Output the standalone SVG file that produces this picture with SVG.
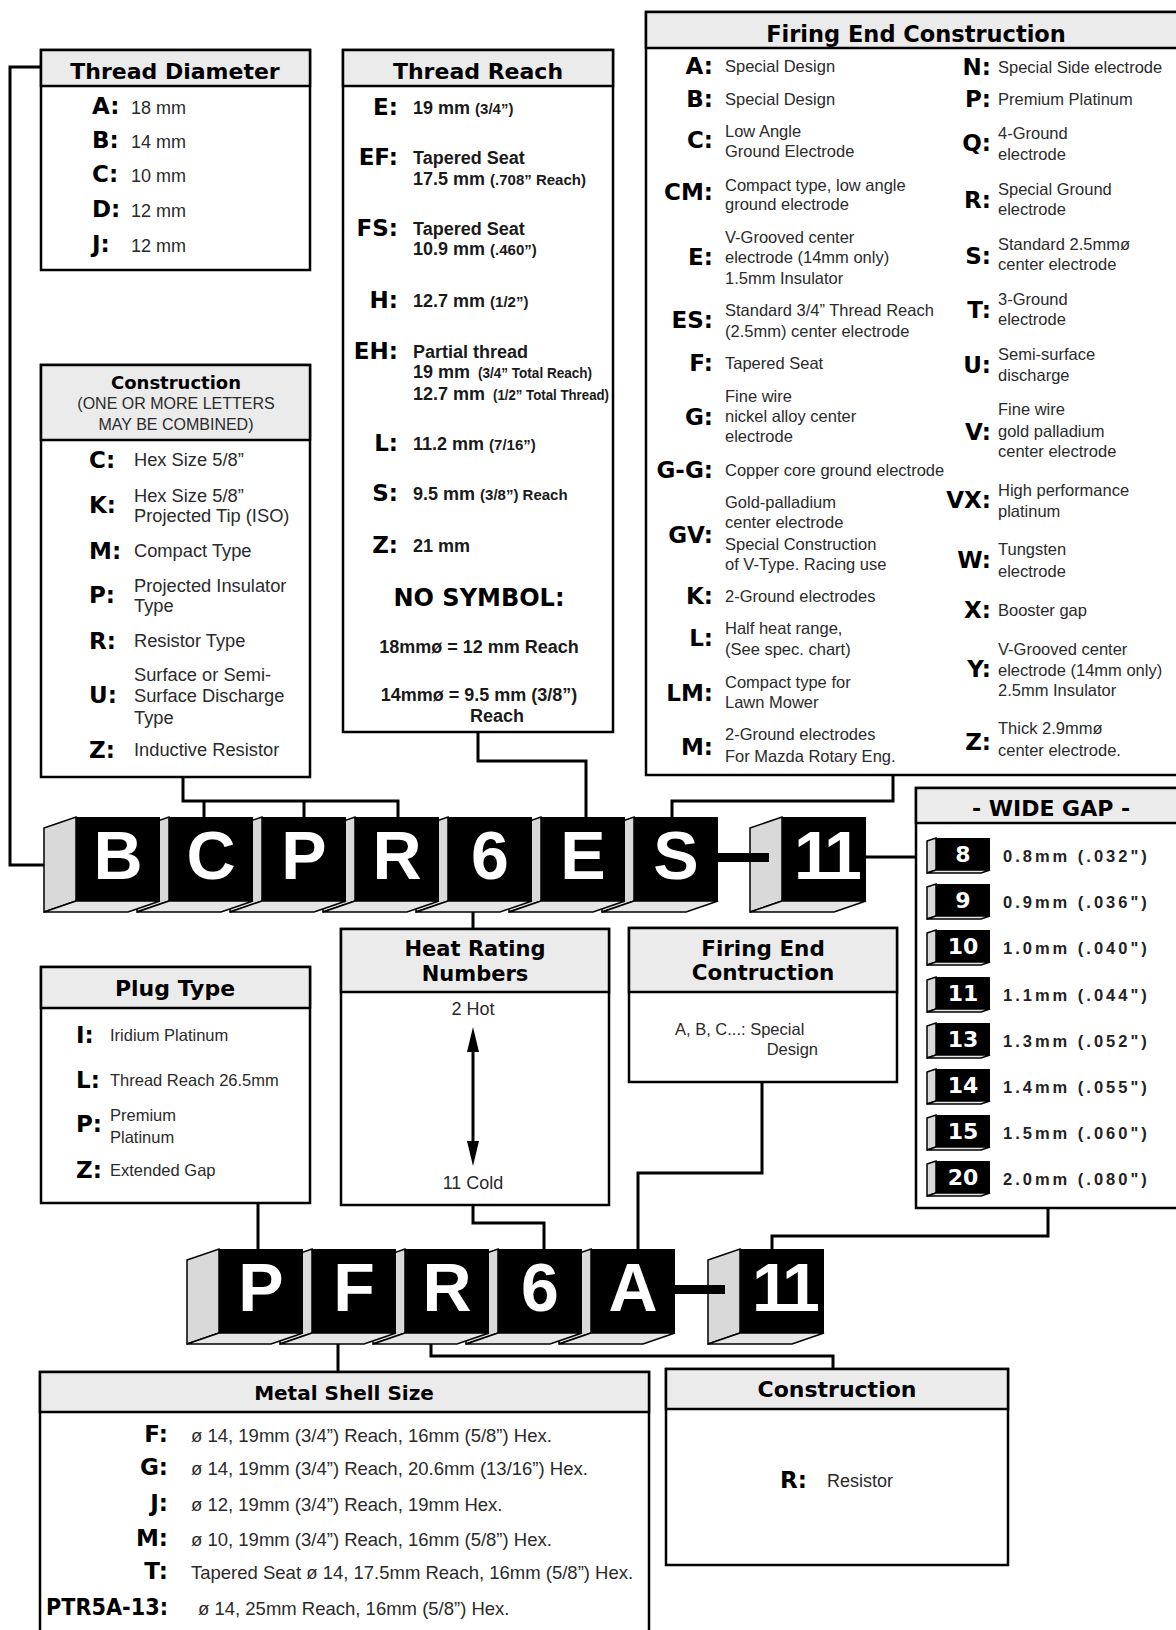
<svg xmlns="http://www.w3.org/2000/svg" xmlns:xlink="http://www.w3.org/1999/xlink" width="1176" height="1630" viewBox="0 0 1176 1630">
<style>
.box{fill:#fff;stroke:#000;stroke-width:2.5}
.hdr{fill:#ebebeb;stroke:#000;stroke-width:2.5}
.con{fill:none;stroke:#000;stroke-width:3}
.h{font-family:'DejaVu Sans',sans-serif;font-weight:700;fill:#000;text-anchor:middle}
.k{font-family:'DejaVu Sans',sans-serif;font-weight:700;font-size:23px;fill:#000}
.ke{font-family:'DejaVu Sans',sans-serif;font-weight:700;font-size:23px;fill:#000;text-anchor:end}
.t{font-family:'Liberation Sans',Arial,sans-serif;fill:#2a2a2a}
.f{font-size:16.5px}
.tb{font-family:'Liberation Sans',Arial,sans-serif;font-weight:700;font-size:18px;fill:#1a1a1a}
.sm{font-size:15px}
.bl{font-family:'Liberation Sans',Arial,sans-serif;font-weight:700;font-size:68px;fill:#fff;text-anchor:middle}
.sn{font-family:'DejaVu Sans',sans-serif;font-weight:700;font-size:22px;fill:#fff;text-anchor:middle}
.wg{font-family:'Liberation Sans',Arial,sans-serif;font-weight:700;font-size:16.5px;letter-spacing:3px;fill:#222}
.sd{fill:#d9d9d9;stroke:#000;stroke-width:1.5}
.bt{fill:#e6e6e6;stroke:#000;stroke-width:1.5}
</style>
<defs>
<g id="blk"><polygon class="sd" points="-32,11 0,0 0,84 -32,95"/><polygon class="bt" points="0,84 84,84 52,95 -32,95"/><rect width="84" height="84" fill="#000"/></g>
<g id="sblk"><polygon class="sd" points="-9,3 0,0 0,32 -9,35"/><polygon class="bt" points="0,32 54,32 45,35 -9,35"/><rect width="54" height="32" fill="#000"/></g>
</defs>
<rect width="1176" height="1630" fill="#fff"/>

<g id="connectors">
<path class="con" d="M41,67 H10 V865 H60"/>
<path class="con" d="M478,732 V761 H586 V817"/>
<path class="con" d="M893,775 V801 H672 V817"/>
<path class="con" d="M183,777 V801 H398 V817 M204,801 V817 M304,801 V817"/>
<path class="con" d="M866,857 H916"/>
<path class="con" d="M473,906 V929"/>
<path class="con" d="M1048,1208 V1236 H772 V1249"/>
<path class="con" d="M258,1203 V1249"/>
<path class="con" d="M473,1205 V1223 H544 V1249"/>
<path class="con" d="M762,1082 V1173 H638 V1249"/>
<path class="con" d="M338,1338 V1372"/>
<path class="con" d="M431,1337 V1356 H833 V1369"/>
</g>

<g id="thread-diameter">
<rect class="box" x="41" y="50" width="269" height="220"/>
<rect class="hdr" x="41" y="50" width="269" height="36"/>
<text class="h" x="175" y="79" font-size="22">Thread Diameter</text>
<text class="k" x="92" y="114">A:</text><text class="t" x="131" y="114" font-size="18">18 mm</text>
<text class="k" x="92" y="148">B:</text><text class="t" x="131" y="148" font-size="18">14 mm</text>
<text class="k" x="92" y="182">C:</text><text class="t" x="131" y="182" font-size="18">10 mm</text>
<text class="k" x="92" y="217">D:</text><text class="t" x="131" y="217" font-size="18">12 mm</text>
<text class="k" x="92" y="252">J:</text><text class="t" x="131" y="252" font-size="18">12 mm</text>
</g>

<g id="thread-reach">
<rect class="box" x="343" y="50" width="270" height="682"/>
<rect class="hdr" x="343" y="50" width="270" height="36"/>
<text class="h" x="478" y="79" font-size="22">Thread Reach</text>
<text class="ke" x="398" y="115">E:</text><text class="tb" x="413" y="114">19 mm <tspan class="sm">(3/4”)</tspan></text>
<text class="ke" x="398" y="165">EF:</text><text class="tb" x="413" y="164">Tapered Seat</text><text class="tb" x="413" y="185">17.5 mm <tspan class="sm">(.708” Reach)</tspan></text>
<text class="ke" x="398" y="236">FS:</text><text class="tb" x="413" y="235">Tapered Seat</text><text class="tb" x="413" y="255">10.9 mm <tspan class="sm">(.460”)</tspan></text>
<text class="ke" x="398" y="308">H:</text><text class="tb" x="413" y="307">12.7 mm <tspan class="sm">(1/2”)</tspan></text>
<text class="ke" x="398" y="359">EH:</text><text class="tb" x="413" y="358">Partial thread</text>
<text class="tb" x="413" y="378">19 mm</text><text class="tb sm" x="478" y="378" textLength="114" lengthAdjust="spacingAndGlyphs">(3/4” Total Reach)</text>
<text class="tb" x="413" y="400">12.7 mm</text><text class="tb sm" x="493" y="400" textLength="116" lengthAdjust="spacingAndGlyphs">(1/2” Total Thread)</text>
<text class="ke" x="398" y="451">L:</text><text class="tb" x="413" y="450">11.2 mm <tspan class="sm">(7/16”)</tspan></text>
<text class="ke" x="398" y="501">S:</text><text class="tb" x="413" y="500">9.5 mm <tspan class="sm">(3/8”) Reach</tspan></text>
<text class="ke" x="398" y="553">Z:</text><text class="tb" x="413" y="552">21 mm</text>
<text class="h" x="479" y="606" font-size="24">NO SYMBOL:</text>
<text class="tb" x="479" y="653" text-anchor="middle">18mmø = 12 mm Reach</text>
<text class="tb" x="479" y="701" text-anchor="middle">14mmø = 9.5 mm (3/8”)</text>
<text class="tb" x="497" y="722" text-anchor="middle">Reach</text>
</g>

<g id="firing-end-construction">
<rect class="box" x="646" y="12" width="540" height="763"/>
<rect class="hdr" x="646" y="12" width="540" height="36"/>
<text class="h" x="916" y="42" font-size="22.5">Firing End Construction</text>
<g class="t f">
<text class="ke" x="713" y="74">A:</text><text x="725" y="72">Special Design</text>
<text class="ke" x="713" y="107">B:</text><text x="725" y="105">Special Design</text>
<text class="ke" x="713" y="148">C:</text><text x="725" y="137">Low Angle</text><text x="725" y="157">Ground Electrode</text>
<text class="ke" x="713" y="200">CM:</text><text x="725" y="191">Compact type, low angle</text><text x="725" y="210">ground electrode</text>
<text class="ke" x="713" y="265">E:</text><text x="725" y="243">V-Grooved center</text><text x="725" y="263">electrode (14mm only)</text><text x="725" y="284">1.5mm Insulator</text>
<text class="ke" x="713" y="328">ES:</text><text x="725" y="316">Standard 3/4” Thread Reach</text><text x="725" y="337">(2.5mm) center electrode</text>
<text class="ke" x="713" y="371">F:</text><text x="725" y="369">Tapered Seat</text>
<text class="ke" x="713" y="425">G:</text><text x="725" y="402">Fine wire</text><text x="725" y="422">nickel alloy center</text><text x="725" y="442">electrode</text>
<text class="ke" x="713" y="478">G-G:</text><text x="725" y="476">Copper core ground electrode</text>
<text class="ke" x="713" y="543">GV:</text><text x="725" y="508">Gold-palladium</text><text x="725" y="528">center electrode</text><text x="725" y="550">Special Construction</text><text x="725" y="570">of V-Type. Racing use</text>
<text class="ke" x="713" y="604">K:</text><text x="725" y="602">2-Ground electrodes</text>
<text class="ke" x="713" y="646">L:</text><text x="725" y="634">Half heat range,</text><text x="725" y="655">(See spec. chart)</text>
<text class="ke" x="713" y="701">LM:</text><text x="725" y="688">Compact type for</text><text x="725" y="708">Lawn Mower</text>
<text class="ke" x="713" y="755">M:</text><text x="725" y="740">2-Ground electrodes</text><text x="725" y="762">For Mazda Rotary Eng.</text>
<text class="ke" x="991" y="75">N:</text><text x="998" y="73">Special Side electrode</text>
<text class="ke" x="991" y="107">P:</text><text x="998" y="105">Premium Platinum</text>
<text class="ke" x="991" y="151">Q:</text><text x="998" y="139">4-Ground</text><text x="998" y="160">electrode</text>
<text class="ke" x="991" y="208">R:</text><text x="998" y="195">Special Ground</text><text x="998" y="215">electrode</text>
<text class="ke" x="991" y="264">S:</text><text x="998" y="250">Standard 2.5mmø</text><text x="998" y="270">center electrode</text>
<text class="ke" x="991" y="318">T:</text><text x="998" y="305">3-Ground</text><text x="998" y="325">electrode</text>
<text class="ke" x="991" y="373">U:</text><text x="998" y="360">Semi-surface</text><text x="998" y="381">discharge</text>
<text class="ke" x="991" y="440">V:</text><text x="998" y="415">Fine wire</text><text x="998" y="437">gold palladium</text><text x="998" y="457">center electrode</text>
<text class="ke" x="991" y="508">VX:</text><text x="998" y="496">High performance</text><text x="998" y="517">platinum</text>
<text class="ke" x="991" y="568">W:</text><text x="998" y="555">Tungsten</text><text x="998" y="577">electrode</text>
<text class="ke" x="991" y="618">X:</text><text x="998" y="616">Booster gap</text>
<text class="ke" x="991" y="677">Y:</text><text x="998" y="655">V-Grooved center</text><text x="998" y="676">electrode (14mm only)</text><text x="998" y="696">2.5mm Insulator</text>
<text class="ke" x="991" y="750">Z:</text><text x="998" y="734">Thick 2.9mmø</text><text x="998" y="756">center electrode.</text>
</g>
</g>

<g id="construction-top">
<rect class="box" x="41" y="365" width="269" height="412"/>
<rect class="hdr" x="41" y="365" width="269" height="75"/>
<text class="h" x="176" y="389" font-size="18">Construction</text>
<text class="t" x="176" y="409" font-size="16" text-anchor="middle">(ONE OR MORE LETTERS</text>
<text class="t" x="176" y="430" font-size="16" text-anchor="middle">MAY BE COMBINED)</text>
<g class="t" font-size="18.3">
<text class="k" x="89" y="468" font-size="22">C:</text><text x="134" y="466">Hex Size 5/8”</text>
<text class="k" x="89" y="513" font-size="22">K:</text><text x="134" y="502">Hex Size 5/8”</text><text x="134" y="522">Projected Tip (ISO)</text>
<text class="k" x="89" y="559" font-size="22">M:</text><text x="134" y="557">Compact Type</text>
<text class="k" x="89" y="603" font-size="22">P:</text><text x="134" y="592">Projected Insulator</text><text x="134" y="612">Type</text>
<text class="k" x="89" y="649" font-size="22">R:</text><text x="134" y="647">Resistor Type</text>
<text class="k" x="89" y="703" font-size="22">U:</text><text x="134" y="681">Surface or Semi-</text><text x="134" y="702">Surface Discharge</text><text x="134" y="724">Type</text>
<text class="k" x="89" y="758" font-size="22">Z:</text><text x="134" y="756">Inductive Resistor</text>
</g>
</g>

<g id="code-top">
<g id="top-S"><use xlink:href="#blk" x="634" y="817"/><text class="bl" x="676" y="879">S</text></g>
<g id="top-E"><use xlink:href="#blk" x="541" y="817"/><text class="bl" x="583" y="879">E</text></g>
<g id="top-6"><use xlink:href="#blk" x="448" y="817"/><text class="bl" x="490" y="879">6</text></g>
<g id="top-R"><use xlink:href="#blk" x="355" y="817"/><text class="bl" x="397" y="879">R</text></g>
<g id="top-P"><use xlink:href="#blk" x="262" y="817"/><text class="bl" x="304" y="879">P</text></g>
<g id="top-C"><use xlink:href="#blk" x="169" y="817"/><text class="bl" x="211" y="879">C</text></g>
<g id="top-B"><use xlink:href="#blk" x="76" y="817"/><text class="bl" x="118" y="879">B</text></g>
<g id="top-11"><use xlink:href="#blk" x="782" y="817"/><text class="bl" x="826" y="879" letter-spacing="-4">11</text></g>
<rect x="717" y="853" width="52" height="9" fill="#000"/>
</g>

<g id="wide-gap">
<rect class="box" x="916" y="788" width="270" height="420"/>
<rect class="hdr" x="916" y="788" width="270" height="35"/>
<text class="h" x="1051" y="816" font-size="22">- WIDE GAP -</text>
<use xlink:href="#sblk" x="936" y="838"/><text class="sn" x="963" y="862">8</text><text class="wg" x="1003" y="862">0.8mm (.032")</text>
<use xlink:href="#sblk" x="936" y="884"/><text class="sn" x="963" y="908">9</text><text class="wg" x="1003" y="908">0.9mm (.036")</text>
<use xlink:href="#sblk" x="936" y="930"/><text class="sn" x="963" y="954">10</text><text class="wg" x="1003" y="954">1.0mm (.040")</text>
<use xlink:href="#sblk" x="936" y="977"/><text class="sn" x="963" y="1001">11</text><text class="wg" x="1003" y="1001">1.1mm (.044")</text>
<use xlink:href="#sblk" x="936" y="1023"/><text class="sn" x="963" y="1047">13</text><text class="wg" x="1003" y="1047">1.3mm (.052")</text>
<use xlink:href="#sblk" x="936" y="1069"/><text class="sn" x="963" y="1093">14</text><text class="wg" x="1003" y="1093">1.4mm (.055")</text>
<use xlink:href="#sblk" x="936" y="1115"/><text class="sn" x="963" y="1139">15</text><text class="wg" x="1003" y="1139">1.5mm (.060")</text>
<use xlink:href="#sblk" x="936" y="1161"/><text class="sn" x="963" y="1185">20</text><text class="wg" x="1003" y="1185">2.0mm (.080")</text>
</g>

<g id="heat-rating">
<rect class="box" x="341" y="929" width="268" height="276"/>
<rect class="hdr" x="341" y="929" width="268" height="63"/>
<text class="h" x="475" y="956" font-size="21">Heat Rating</text>
<text class="h" x="475" y="981" font-size="21">Numbers</text>
<text class="t" x="473" y="1015" font-size="18" text-anchor="middle">2 Hot</text>
<text class="t" x="473" y="1189" font-size="18" text-anchor="middle">11 Cold</text>
<line x1="473" y1="1050" x2="473" y2="1143" stroke="#000" stroke-width="3"/>
<path d="M473,1027 L479,1052 L467,1052 Z M473,1166 L479,1141 L467,1141 Z" fill="#000"/>
</g>

<g id="firing-end-small">
<rect class="box" x="629" y="928" width="268" height="154"/>
<rect class="hdr" x="629" y="928" width="268" height="64"/>
<text class="h" x="763" y="956" font-size="21.5">Firing End</text>
<text class="h" x="763" y="980" font-size="21.5">Contruction</text>
<text class="t f" x="675" y="1035">A, B, C...: Special</text>
<text class="t f" x="818" y="1055" text-anchor="end">Design</text>
</g>

<g id="plug-type">
<rect class="box" x="41" y="967" width="269" height="236"/>
<rect class="hdr" x="41" y="967" width="269" height="41"/>
<text class="h" x="175" y="996" font-size="22">Plug Type</text>
<g class="t f">
<text class="k" x="76" y="1043" font-size="22">I:</text><text x="110" y="1041">Iridium Platinum</text>
<text class="k" x="76" y="1088" font-size="22">L:</text><text x="110" y="1086">Thread Reach 26.5mm</text>
<text class="k" x="76" y="1132" font-size="22">P:</text><text x="110" y="1121">Premium</text><text x="110" y="1143">Platinum</text>
<text class="k" x="76" y="1178" font-size="22">Z:</text><text x="110" y="1176">Extended Gap</text>
</g>
</g>

<g id="code-bottom">
<g id="bot-A"><use xlink:href="#blk" x="591" y="1249"/><text class="bl" x="633" y="1311">A</text></g>
<g id="bot-6"><use xlink:href="#blk" x="498" y="1249"/><text class="bl" x="540" y="1311">6</text></g>
<g id="bot-R"><use xlink:href="#blk" x="405" y="1249"/><text class="bl" x="447" y="1311">R</text></g>
<g id="bot-F"><use xlink:href="#blk" x="312" y="1249"/><text class="bl" x="354" y="1311">F</text></g>
<g id="bot-P"><use xlink:href="#blk" x="219" y="1249"/><text class="bl" x="261" y="1311">P</text></g>
<g id="bot-11"><use xlink:href="#blk" x="740" y="1249"/><text class="bl" x="784" y="1311" letter-spacing="-4">11</text></g>
<rect x="675" y="1285" width="50" height="9" fill="#000"/>
</g>

<g id="metal-shell-size">
<rect class="box" x="40" y="1372" width="609" height="280"/>
<rect class="hdr" x="40" y="1372" width="609" height="40"/>
<text class="h" x="344" y="1400" font-size="20">Metal Shell Size</text>
<g class="t" font-size="18.5">
<text class="ke" x="168" y="1442" font-size="21">F:</text><text x="191" y="1442">ø 14, 19mm (3/4”) Reach, 16mm (5/8”) Hex.</text>
<text class="ke" x="168" y="1475" font-size="21">G:</text><text x="191" y="1475">ø 14, 19mm (3/4”) Reach, 20.6mm (13/16”) Hex.</text>
<text class="ke" x="168" y="1511" font-size="21">J:</text><text x="191" y="1511">ø 12, 19mm (3/4”) Reach, 19mm Hex.</text>
<text class="ke" x="168" y="1546" font-size="21">M:</text><text x="191" y="1546">ø 10, 19mm (3/4”) Reach, 16mm (5/8”) Hex.</text>
<text class="ke" x="168" y="1579" font-size="21">T:</text><text x="191" y="1579">Tapered Seat  ø 14, 17.5mm Reach, 16mm (5/8”) Hex.</text>
<text class="k" x="46" y="1615" font-size="21" textLength="122" lengthAdjust="spacingAndGlyphs">PTR5A-13:</text><text x="198" y="1615">ø 14, 25mm Reach, 16mm (5/8”) Hex.</text>
</g>
</g>

<g id="construction-bottom">
<rect class="box" x="666" y="1369" width="342" height="196"/>
<rect class="hdr" x="666" y="1369" width="342" height="40"/>
<text class="h" x="837" y="1397" font-size="22">Construction</text>
<text class="k" x="780" y="1488" font-size="22">R:</text>
<text class="t" x="827" y="1487" font-size="18">Resistor</text>
</g>
</svg>
